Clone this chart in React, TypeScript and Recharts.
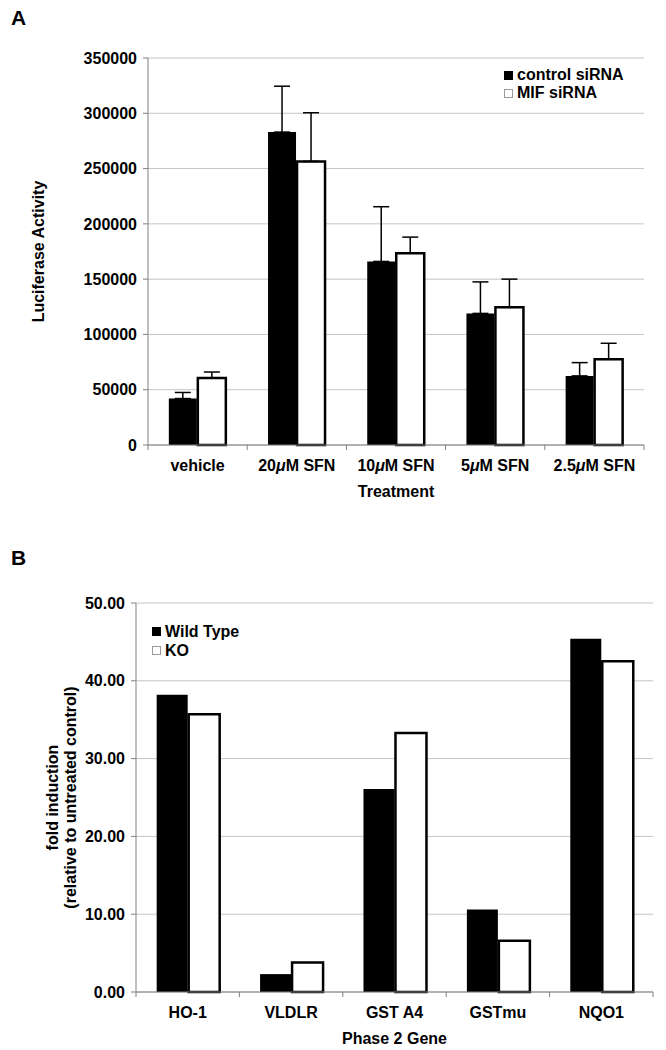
import React from 'react';
import { BarChart, Bar, XAxis, YAxis, CartesianGrid, ErrorBar, Legend } from 'recharts';

// ---------- Panel A data ----------
const treatments = ['vehicle', '20μM SFN', '10μM SFN', '5μM SFN', '2.5μM SFN'];
const controlSiRNA = [42000, 283000, 166000, 119000, 62500];
const controlSiRNAErr = [5500, 41500, 49500, 28500, 12000];
const mifSiRNA = [60500, 256500, 173500, 124500, 77500];
const mifSiRNAErr = [5500, 44000, 14500, 25500, 14500];
const luciferaseTicks = [0, 50000, 100000, 150000, 200000, 250000, 300000, 350000];
const legendOrderA = ['control siRNA', 'MIF siRNA'];

// ---------- Panel B data ----------
const genes = ['HO-1', 'VLDLR', 'GST A4', 'GSTmu', 'NQO1'];
const wildType = [38.2, 2.3, 26.1, 10.6, 45.4];
const knockout = [35.7, 3.8, 33.3, 6.6, 42.5];
const foldTicks = [0, 10, 20, 30, 40, 50];
const legendOrderB = ['Wild Type', 'KO'];

const dataA = treatments.map((t, i) => ({
  name: t,
  ctrl: controlSiRNA[i],
  ctrlErr: [0, controlSiRNAErr[i]],
  mif: mifSiRNA[i],
  mifErr: [0, mifSiRNAErr[i]],
}));

const dataB = genes.map((g, i) => ({
  name: g,
  wt: wildType[i],
  ko: knockout[i],
}));

const FONT = '"Liberation Sans", Arial, Helvetica, sans-serif';
const AXIS_GRAY = '#808080';
const GRID_GRAY = '#c4c4c4';

const renderLabelParts = (s: string) => {
  const parts = s.split('μ');
  if (parts.length === 1) return s;
  const out: any[] = [];
  parts.forEach((p, i) => {
    if (i > 0) out.push(<tspan key={'m' + i} fontStyle="italic">μ</tspan>);
    out.push(<tspan key={'p' + i}>{p}</tspan>);
  });
  return out;
};

const makeCategoryTick = (fallbackWidth: number) => (props: any) => {
  const { x, y, payload, index, visibleTicksCount } = props;
  const w = typeof props.width === 'number' && props.width > 0 ? props.width : fallbackWidth;
  const band = w / (visibleTicksCount || 5);
  return (
    <g>
      <line x1={x - band / 2} y1={y} x2={x - band / 2} y2={y + 5} stroke={AXIS_GRAY} strokeWidth={1} />
      {index === visibleTicksCount - 1 && (
        <line x1={x + band / 2} y1={y} x2={x + band / 2} y2={y + 5} stroke={AXIS_GRAY} strokeWidth={1} />
      )}
      <text x={x} y={y + 26} textAnchor="middle" fontFamily={FONT} fontWeight="bold" fontSize={16} fill="#000">
        {renderLabelParts(String(payload.value))}
      </text>
    </g>
  );
};

const SwatchLegend = (props: any) => {
  const { payload, lineHeight, order } = props;
  const items = [...(payload || [])].sort(
    (a: any, b: any) => order.indexOf(a.value) - order.indexOf(b.value)
  );
  return (
    <div style={{ fontFamily: FONT, fontWeight: 'bold', fontSize: 16, color: '#000' }}>
      {items.map((e: any, i: number) => {
        const c = String(e.color).toLowerCase();
        const isWhite = c === '#ffffff' || c === '#fff';
        return (
          <div key={i} style={{ display: 'flex', alignItems: 'center', height: lineHeight, whiteSpace: 'nowrap' }}>
            <span
              style={{
                display: 'inline-block',
                width: 9,
                height: 9,
                boxSizing: 'border-box',
                background: isWhite ? '#fff' : '#000',
                border: isWhite ? '1px solid #9a9a9a' : '1px solid #000',
                marginRight: 4,
              }}
            />
            <span>{e.value}</span>
          </div>
        );
      })}
    </div>
  );
};

const tickStyle = { fontFamily: FONT, fontWeight: 'bold', fontSize: 16, fill: '#000' };

const PanelA = () => (
  <BarChart
    width={666}
    height={520}
    data={dataA}
    margin={{ top: 58, right: 22, bottom: 0, left: 0 }}
    barCategoryGap="21%"
    barGap={1}
  >
    <CartesianGrid vertical={false} stroke={GRID_GRAY} />
    <XAxis
      dataKey="name"
      height={75}
      tickSize={0}
      tickMargin={0}
      tickLine={false}
      interval={0}
      axisLine={{ stroke: AXIS_GRAY }}
      tick={makeCategoryTick(496)}
      label={{
        content: (p: any) => {
          const vb = p.viewBox || {};
          return (
            <text x={vb.x + vb.width / 2} y={vb.y + 52} textAnchor="middle" fontFamily={FONT} fontWeight="bold" fontSize={16} fill="#000">
              Treatment
            </text>
          );
        },
      }}
    />
    <YAxis
      width={148}
      domain={[0, 350000]}
      ticks={luciferaseTicks}
      interval={0}
      tickSize={5}
      tickMargin={6}
      tick={tickStyle}
      tickLine={{ stroke: AXIS_GRAY }}
      axisLine={{ stroke: AXIS_GRAY }}
      label={{
        content: (p: any) => {
          const vb = p.viewBox || {};
          const cx = vb.x + 38;
          const cy = vb.y + vb.height / 2;
          return (
            <text x={cx} y={cy} transform={`rotate(-90, ${cx}, ${cy})`} textAnchor="middle" dominantBaseline="central" fontFamily={FONT} fontWeight="bold" fontSize={16} fill="#000">
              Luciferase Activity
            </text>
          );
        },
      }}
    />
    <YAxis yAxisId="frame" orientation="right" width={0} tick={false} tickLine={false} axisLine={{ stroke: AXIS_GRAY }} />
    <Legend
      layout="vertical"
      align="center"
      verticalAlign="middle"
      content={<SwatchLegend lineHeight={18} order={legendOrderA} />}
      wrapperStyle={{ top: 66, left: 504, width: 150 }}
    />
    <Bar dataKey="ctrl" name="control siRNA" fill="#000000" isAnimationActive={false}>
      <ErrorBar dataKey="ctrlErr" width={8} stroke="#000" strokeWidth={1.5} direction="y" />
    </Bar>
    <Bar dataKey="mif" name="MIF siRNA" fill="#ffffff" stroke="#000" strokeWidth={2.5} isAnimationActive={false}>
      <ErrorBar dataKey="mifErr" width={8} stroke="#000" strokeWidth={1.5} direction="y" />
    </Bar>
  </BarChart>
);

const PanelB = () => (
  <BarChart
    width={666}
    height={520}
    data={dataB}
    margin={{ top: 73, right: 13, bottom: 0, left: 0 }}
    barCategoryGap="20%"
    barGap={1}
  >
    <CartesianGrid vertical={false} stroke={GRID_GRAY} />
    <XAxis
      dataKey="name"
      height={58}
      tickSize={0}
      tickMargin={0}
      tickLine={false}
      interval={0}
      axisLine={{ stroke: AXIS_GRAY }}
      tick={makeCategoryTick(517)}
      label={{
        content: (p: any) => {
          const vb = p.viewBox || {};
          return (
            <text x={vb.x + vb.width / 2} y={vb.y + 52} textAnchor="middle" fontFamily={FONT} fontWeight="bold" fontSize={16} fill="#000">
              Phase 2 Gene
            </text>
          );
        },
      }}
    />
    <YAxis
      width={136}
      domain={[0, 50]}
      ticks={foldTicks}
      interval={0}
      tickSize={5}
      tickMargin={6}
      tick={tickStyle}
      tickFormatter={(v: number) => v.toFixed(2)}
      tickLine={{ stroke: AXIS_GRAY }}
      axisLine={{ stroke: AXIS_GRAY }}
      label={{
        content: (p: any) => {
          const vb = p.viewBox || {};
          const cy = vb.y + vb.height / 2;
          const x1 = vb.x + 52;
          const x2 = vb.x + 70;
          return (
            <g>
              <text x={x1} y={cy} transform={`rotate(-90, ${x1}, ${cy})`} textAnchor="middle" dominantBaseline="central" fontFamily={FONT} fontWeight="bold" fontSize={16} fill="#000">
                fold induction
              </text>
              <text x={x2} y={cy} transform={`rotate(-90, ${x2}, ${cy})`} textAnchor="middle" dominantBaseline="central" fontFamily={FONT} fontWeight="bold" fontSize={16} fill="#000">
                (relative to untreated control)
              </text>
            </g>
          );
        },
      }}
    />
    <YAxis yAxisId="frame" orientation="right" width={0} tick={false} tickLine={false} axisLine={{ stroke: AXIS_GRAY }} />
    <Legend
      layout="vertical"
      align="center"
      verticalAlign="middle"
      content={<SwatchLegend lineHeight={19} order={legendOrderB} />}
      wrapperStyle={{ top: 92, left: 152, width: 150 }}
    />
    <Bar dataKey="wt" name="Wild Type" fill="#000000" isAnimationActive={false} />
    <Bar dataKey="ko" name="KO" fill="#ffffff" stroke="#000" strokeWidth={2.5} isAnimationActive={false} />
  </BarChart>
);

export default function App() {
  return (
    <div style={{ position: 'absolute', left: 0, top: 0, width: 666, height: 1050, background: '#fff', overflow: 'hidden' }}>
      <div style={{ position: 'absolute', left: 0, top: 0 }}>
        <PanelA />
      </div>
      <div style={{ position: 'absolute', left: 0, top: 530 }}>
        <PanelB />
      </div>
      <div style={{ position: 'absolute', left: 11, top: 7, fontFamily: FONT, fontWeight: 'bold', fontSize: 21, lineHeight: '21px' }}>A</div>
      <div style={{ position: 'absolute', left: 11, top: 547, fontFamily: FONT, fontWeight: 'bold', fontSize: 21, lineHeight: '21px' }}>B</div>
    </div>
  );
}
